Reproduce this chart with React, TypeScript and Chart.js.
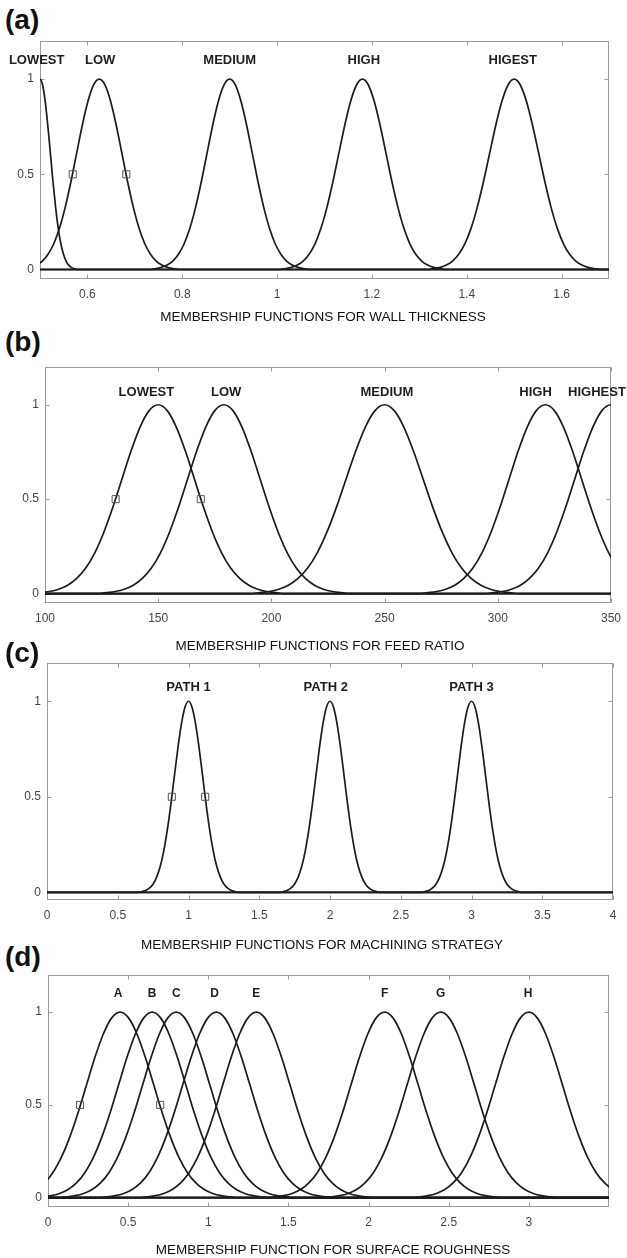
import React, { useEffect, useRef } from 'react';
import { Chart, registerables } from 'chart.js';

Chart.register(...registerables);

type Pt = [number, number];

// ---------- (a) wall thickness ----------
const wallNames = ['LOWEST', 'LOW', 'MEDIUM', 'HIGH', 'HIGEST'];
const wallLabelX = [0.493, 0.627, 0.9, 1.183, 1.497];
const wallXTicks = [0.6, 0.8, 1, 1.2, 1.4, 1.6];
const wallLowest: Pt[] = [[0.478, 0.607], [0.4835, 0.755], [0.489, 0.882], [0.4945, 0.969], [0.5, 1], [0.5055, 0.969], [0.511, 0.882], [0.5165, 0.755], [0.522, 0.607], [0.5275, 0.458], [0.533, 0.325], [0.5385, 0.216], [0.544, 0.135], [0.5495, 0.08], [0.555, 0.044], [0.5605, 0.023], [0.566, 0.011], [0.5715, 0.005], [0.577, 0], [1.7, 0]];
const wallLow: Pt[] = [[0.457, 0], [0.469, 0.005], [0.481, 0.011], [0.493, 0.023], [0.505, 0.044], [0.517, 0.08], [0.529, 0.135], [0.541, 0.216], [0.553, 0.325], [0.565, 0.458], [0.577, 0.607], [0.589, 0.755], [0.601, 0.882], [0.613, 0.969], [0.625, 1], [0.637, 0.969], [0.649, 0.882], [0.661, 0.755], [0.673, 0.607], [0.685, 0.458], [0.697, 0.325], [0.709, 0.216], [0.721, 0.135], [0.733, 0.08], [0.745, 0.044], [0.757, 0.023], [0.769, 0.011], [0.781, 0.005], [0.793, 0], [1.7, 0]];
const wallMedium: Pt[] = [[0.5, 0], [0.732, 0], [0.744, 0.005], [0.756, 0.011], [0.768, 0.023], [0.78, 0.044], [0.792, 0.08], [0.804, 0.135], [0.816, 0.216], [0.828, 0.325], [0.84, 0.458], [0.852, 0.607], [0.864, 0.755], [0.876, 0.882], [0.888, 0.969], [0.9, 1], [0.912, 0.969], [0.924, 0.882], [0.936, 0.755], [0.948, 0.607], [0.96, 0.458], [0.972, 0.325], [0.984, 0.216], [0.996, 0.135], [1.008, 0.08], [1.02, 0.044], [1.032, 0.023], [1.044, 0.011], [1.056, 0.005], [1.068, 0], [1.7, 0]];
const wallHigh: Pt[] = [[0.5, 0], [1.005, 0], [1.0175, 0.005], [1.03, 0.011], [1.0425, 0.023], [1.055, 0.044], [1.0675, 0.08], [1.08, 0.135], [1.0925, 0.216], [1.105, 0.325], [1.1175, 0.458], [1.13, 0.607], [1.1425, 0.755], [1.155, 0.882], [1.1675, 0.969], [1.18, 1], [1.1925, 0.969], [1.205, 0.882], [1.2175, 0.755], [1.23, 0.607], [1.2425, 0.458], [1.255, 0.325], [1.2675, 0.216], [1.28, 0.135], [1.2925, 0.08], [1.305, 0.044], [1.3175, 0.023], [1.33, 0.011], [1.3425, 0.005], [1.355, 0], [1.7, 0]];
const wallHigest: Pt[] = [[0.5, 0], [1.318, 0], [1.331, 0.005], [1.344, 0.011], [1.357, 0.023], [1.37, 0.044], [1.383, 0.08], [1.396, 0.135], [1.409, 0.216], [1.422, 0.325], [1.435, 0.458], [1.448, 0.607], [1.461, 0.755], [1.474, 0.882], [1.487, 0.969], [1.5, 1], [1.513, 0.969], [1.526, 0.882], [1.539, 0.755], [1.552, 0.607], [1.565, 0.458], [1.578, 0.325], [1.591, 0.216], [1.604, 0.135], [1.617, 0.08], [1.63, 0.044], [1.643, 0.023], [1.656, 0.011], [1.669, 0.005], [1.682, 0], [1.7, 0]];
const wallMarks: Pt[] = [[0.569, 0.5], [0.682, 0.5]];

// ---------- (b) feed ratio ----------
const feedNames = ['LOWEST', 'LOW', 'MEDIUM', 'HIGH', 'HIGHEST'];
const feedLabelX = [144.8, 180, 251, 316.7, 343.8];
const feedXTicks = [100, 150, 200, 250, 300, 350];
const feedLowest: Pt[] = [[94, 0], [98, 0.005], [102, 0.011], [106, 0.023], [110, 0.044], [114, 0.08], [118, 0.135], [122, 0.216], [126, 0.325], [130, 0.458], [134, 0.607], [138, 0.755], [142, 0.882], [146, 0.969], [150, 1], [154, 0.969], [158, 0.882], [162, 0.755], [166, 0.607], [170, 0.458], [174, 0.325], [178, 0.216], [182, 0.135], [186, 0.08], [190, 0.044], [194, 0.023], [198, 0.011], [202, 0.005], [206, 0], [350, 0]];
const feedLow: Pt[] = [[100, 0], [123, 0], [127, 0.005], [131, 0.011], [135, 0.023], [139, 0.044], [143, 0.08], [147, 0.135], [151, 0.216], [155, 0.325], [159, 0.458], [163, 0.607], [167, 0.755], [171, 0.882], [175, 0.969], [179, 1], [183, 0.969], [187, 0.882], [191, 0.755], [195, 0.607], [199, 0.458], [203, 0.325], [207, 0.216], [211, 0.135], [215, 0.08], [219, 0.044], [223, 0.023], [227, 0.011], [231, 0.005], [235, 0], [350, 0]];
const feedMedium: Pt[] = [[100, 0], [190.5, 0], [194.75, 0.005], [199, 0.011], [203.25, 0.023], [207.5, 0.044], [211.75, 0.08], [216, 0.135], [220.25, 0.216], [224.5, 0.325], [228.75, 0.458], [233, 0.607], [237.25, 0.755], [241.5, 0.882], [245.75, 0.969], [250, 1], [254.25, 0.969], [258.5, 0.882], [262.75, 0.755], [267, 0.607], [271.25, 0.458], [275.5, 0.325], [279.75, 0.216], [284, 0.135], [288.25, 0.08], [292.5, 0.044], [296.75, 0.023], [301, 0.011], [305.25, 0.005], [309.5, 0], [350, 0]];
const feedHigh: Pt[] = [[100, 0], [265, 0], [269, 0.005], [273, 0.011], [277, 0.023], [281, 0.044], [285, 0.08], [289, 0.135], [293, 0.216], [297, 0.325], [301, 0.458], [305, 0.607], [309, 0.755], [313, 0.882], [317, 0.969], [321, 1], [325, 0.969], [329, 0.882], [333, 0.755], [337, 0.607], [341, 0.458], [345, 0.325], [349, 0.216], [353, 0.135], [357, 0.08]];
const feedHighest: Pt[] = [[100, 0], [294, 0], [298, 0.005], [302, 0.011], [306, 0.023], [310, 0.044], [314, 0.08], [318, 0.135], [322, 0.216], [326, 0.325], [330, 0.458], [334, 0.607], [338, 0.755], [342, 0.882], [346, 0.969], [350, 1], [354, 0.969], [358, 0.882]];
const feedMarks: Pt[] = [[131.2, 0.5], [168.8, 0.5]];

// ---------- (c) machining strategy ----------
const pathNames = ['PATH 1', 'PATH 2', 'PATH 3'];
const pathLabelX = [1.0, 1.97, 3.0];
const pathXTicks = [0, 0.5, 1, 1.5, 2, 2.5, 3, 3.5, 4];
const path1: Pt[] = [[0, 0], [0.65, 0], [0.675, 0.005], [0.7, 0.011], [0.725, 0.023], [0.75, 0.044], [0.775, 0.08], [0.8, 0.135], [0.825, 0.216], [0.85, 0.325], [0.875, 0.458], [0.9, 0.607], [0.925, 0.755], [0.95, 0.882], [0.975, 0.969], [1, 1], [1.025, 0.969], [1.05, 0.882], [1.075, 0.755], [1.1, 0.607], [1.125, 0.458], [1.15, 0.325], [1.175, 0.216], [1.2, 0.135], [1.225, 0.08], [1.25, 0.044], [1.275, 0.023], [1.3, 0.011], [1.325, 0.005], [1.35, 0], [4, 0]];
const path2: Pt[] = [[0, 0], [1.65, 0], [1.675, 0.005], [1.7, 0.011], [1.725, 0.023], [1.75, 0.044], [1.775, 0.08], [1.8, 0.135], [1.825, 0.216], [1.85, 0.325], [1.875, 0.458], [1.9, 0.607], [1.925, 0.755], [1.95, 0.882], [1.975, 0.969], [2, 1], [2.025, 0.969], [2.05, 0.882], [2.075, 0.755], [2.1, 0.607], [2.125, 0.458], [2.15, 0.325], [2.175, 0.216], [2.2, 0.135], [2.225, 0.08], [2.25, 0.044], [2.275, 0.023], [2.3, 0.011], [2.325, 0.005], [2.35, 0], [4, 0]];
const path3: Pt[] = [[0, 0], [2.65, 0], [2.675, 0.005], [2.7, 0.011], [2.725, 0.023], [2.75, 0.044], [2.775, 0.08], [2.8, 0.135], [2.825, 0.216], [2.85, 0.325], [2.875, 0.458], [2.9, 0.607], [2.925, 0.755], [2.95, 0.882], [2.975, 0.969], [3, 1], [3.025, 0.969], [3.05, 0.882], [3.075, 0.755], [3.1, 0.607], [3.125, 0.458], [3.15, 0.325], [3.175, 0.216], [3.2, 0.135], [3.225, 0.08], [3.25, 0.044], [3.275, 0.023], [3.3, 0.011], [3.325, 0.005], [3.35, 0], [4, 0]];
const pathMarks: Pt[] = [[0.882, 0.5], [1.118, 0.5]];

// ---------- (d) surface roughness ----------
const roughNames = ['A', 'B', 'C', 'D', 'E', 'F', 'G', 'H'];
const roughLabelX = [0.437, 0.649, 0.8, 1.04, 1.3, 2.1, 2.45, 2.995];
const roughXTicks = [0, 0.5, 1, 1.5, 2, 2.5, 3];
const roughA: Pt[] = [[-0.18, 0.011], [-0.1275, 0.023], [-0.075, 0.044], [-0.0225, 0.08], [0.03, 0.135], [0.0825, 0.216], [0.135, 0.325], [0.1875, 0.458], [0.24, 0.607], [0.2925, 0.755], [0.345, 0.882], [0.3975, 0.969], [0.45, 1], [0.5025, 0.969], [0.555, 0.882], [0.6075, 0.755], [0.66, 0.607], [0.7125, 0.458], [0.765, 0.325], [0.8175, 0.216], [0.87, 0.135], [0.9225, 0.08], [0.975, 0.044], [1.0275, 0.023], [1.08, 0.011], [1.1325, 0.005], [1.185, 0], [3.5, 0]];
const roughB: Pt[] = [[-0.085, 0], [-0.0325, 0.005], [0.02, 0.011], [0.0725, 0.023], [0.125, 0.044], [0.1775, 0.08], [0.23, 0.135], [0.2825, 0.216], [0.335, 0.325], [0.3875, 0.458], [0.44, 0.607], [0.4925, 0.755], [0.545, 0.882], [0.5975, 0.969], [0.65, 1], [0.7025, 0.969], [0.755, 0.882], [0.8075, 0.755], [0.86, 0.607], [0.9125, 0.458], [0.965, 0.325], [1.0175, 0.216], [1.07, 0.135], [1.1225, 0.08], [1.175, 0.044], [1.2275, 0.023], [1.28, 0.011], [1.3325, 0.005], [1.385, 0], [3.5, 0]];
const roughC: Pt[] = [[0, 0], [0.065, 0], [0.1175, 0.005], [0.17, 0.011], [0.2225, 0.023], [0.275, 0.044], [0.3275, 0.08], [0.38, 0.135], [0.4325, 0.216], [0.485, 0.325], [0.5375, 0.458], [0.59, 0.607], [0.6425, 0.755], [0.695, 0.882], [0.7475, 0.969], [0.8, 1], [0.8525, 0.969], [0.905, 0.882], [0.9575, 0.755], [1.01, 0.607], [1.0625, 0.458], [1.115, 0.325], [1.1675, 0.216], [1.22, 0.135], [1.2725, 0.08], [1.325, 0.044], [1.3775, 0.023], [1.43, 0.011], [1.4825, 0.005], [1.535, 0], [3.5, 0]];
const roughD: Pt[] = [[0, 0], [0.315, 0], [0.3675, 0.005], [0.42, 0.011], [0.4725, 0.023], [0.525, 0.044], [0.5775, 0.08], [0.63, 0.135], [0.6825, 0.216], [0.735, 0.325], [0.7875, 0.458], [0.84, 0.607], [0.8925, 0.755], [0.945, 0.882], [0.9975, 0.969], [1.05, 1], [1.1025, 0.969], [1.155, 0.882], [1.2075, 0.755], [1.26, 0.607], [1.3125, 0.458], [1.365, 0.325], [1.4175, 0.216], [1.47, 0.135], [1.5225, 0.08], [1.575, 0.044], [1.6275, 0.023], [1.68, 0.011], [1.7325, 0.005], [1.785, 0], [3.5, 0]];
const roughE: Pt[] = [[0, 0], [0.565, 0], [0.6175, 0.005], [0.67, 0.011], [0.7225, 0.023], [0.775, 0.044], [0.8275, 0.08], [0.88, 0.135], [0.9325, 0.216], [0.985, 0.325], [1.0375, 0.458], [1.09, 0.607], [1.1425, 0.755], [1.195, 0.882], [1.2475, 0.969], [1.3, 1], [1.3525, 0.969], [1.405, 0.882], [1.4575, 0.755], [1.51, 0.607], [1.5625, 0.458], [1.615, 0.325], [1.6675, 0.216], [1.72, 0.135], [1.7725, 0.08], [1.825, 0.044], [1.8775, 0.023], [1.93, 0.011], [1.9825, 0.005], [2.035, 0], [3.5, 0]];
const roughF: Pt[] = [[0, 0], [1.365, 0], [1.4175, 0.005], [1.47, 0.011], [1.5225, 0.023], [1.575, 0.044], [1.6275, 0.08], [1.68, 0.135], [1.7325, 0.216], [1.785, 0.325], [1.8375, 0.458], [1.89, 0.607], [1.9425, 0.755], [1.995, 0.882], [2.0475, 0.969], [2.1, 1], [2.1525, 0.969], [2.205, 0.882], [2.2575, 0.755], [2.31, 0.607], [2.3625, 0.458], [2.415, 0.325], [2.4675, 0.216], [2.52, 0.135], [2.5725, 0.08], [2.625, 0.044], [2.6775, 0.023], [2.73, 0.011], [2.7825, 0.005], [2.835, 0], [3.5, 0]];
const roughG: Pt[] = [[0, 0], [1.715, 0], [1.7675, 0.005], [1.82, 0.011], [1.8725, 0.023], [1.925, 0.044], [1.9775, 0.08], [2.03, 0.135], [2.0825, 0.216], [2.135, 0.325], [2.1875, 0.458], [2.24, 0.607], [2.2925, 0.755], [2.345, 0.882], [2.3975, 0.969], [2.45, 1], [2.5025, 0.969], [2.555, 0.882], [2.6075, 0.755], [2.66, 0.607], [2.7125, 0.458], [2.765, 0.325], [2.8175, 0.216], [2.87, 0.135], [2.9225, 0.08], [2.975, 0.044], [3.0275, 0.023], [3.08, 0.011], [3.1325, 0.005], [3.185, 0], [3.5, 0]];
const roughH: Pt[] = [[0, 0], [2.265, 0], [2.3175, 0.005], [2.37, 0.011], [2.4225, 0.023], [2.475, 0.044], [2.5275, 0.08], [2.58, 0.135], [2.6325, 0.216], [2.685, 0.325], [2.7375, 0.458], [2.79, 0.607], [2.8425, 0.755], [2.895, 0.882], [2.9475, 0.969], [3, 1], [3.0525, 0.969], [3.105, 0.882], [3.1575, 0.755], [3.21, 0.607], [3.2625, 0.458], [3.315, 0.325], [3.3675, 0.216], [3.42, 0.135], [3.4725, 0.08], [3.525, 0.044]];
const roughMarks: Pt[] = [[0.2, 0.5], [0.7, 0.5]];

const yTicks = [0, 0.5, 1];

const FONT = '"Liberation Sans", Arial, Helvetica, sans-serif';
const PAGE_W = 627;

const framePlugin = {
  id: 'frame',
  beforeDatasetsDraw(chart: any, _args: any, opts: any) {
    const { ctx, chartArea: ca, scales } = chart;
    ctx.save();
    ctx.strokeStyle = opts.color || '#9a9a9a';
    ctx.lineWidth = 1;
    const l = Math.round(ca.left) + 0.5;
    const r = Math.round(ca.right) - 0.5;
    const t = Math.round(ca.top) + 0.5;
    const b = Math.round(ca.bottom) - 0.5;
    ctx.strokeRect(l, t, r - l, b - t);
    const tl = 4;
    ctx.beginPath();
    for (const v of opts.xTicks || []) {
      const px = Math.round(scales.x.getPixelForValue(v)) + 0.5;
      ctx.moveTo(px, b);
      ctx.lineTo(px, b - tl);
      ctx.moveTo(px, t);
      ctx.lineTo(px, t + tl);
    }
    for (const v of opts.yTicks || []) {
      const py = Math.round(scales.y.getPixelForValue(v)) + 0.5;
      ctx.moveTo(l, py);
      ctx.lineTo(l + tl, py);
      ctx.moveTo(r, py);
      ctx.lineTo(r - tl, py);
    }
    ctx.stroke();
    ctx.restore();
  },
  afterDatasetsDraw(chart: any, _args: any, opts: any) {
    const { ctx, scales } = chart;
    const names: string[] = opts.names || [];
    const xs: number[] = opts.labelX || [];
    ctx.save();
    ctx.fillStyle = opts.labelColor || '#1e1e1e';
    ctx.font = opts.labelFont;
    ctx.textAlign = 'center';
    ctx.textBaseline = 'middle';
    names.forEach((n, i) => {
      ctx.fillText(n, scales.x.getPixelForValue(xs[i]), scales.y.getPixelForValue(opts.labelY));
    });
    ctx.restore();
  },
};

type Area = { left: number; right: number; top: number; bottom: number };

interface PanelProps {
  area: Area;
  xMin: number;
  xMax: number;
  yMin: number;
  yMax: number;
  xTicks: number[];
  curves: Pt[][];
  marks: Pt[];
  names: string[];
  labelX: number[];
  labelY: number;
  labelFont: string;
}

const TOP_PAD = 20;
const X_AXIS_H = 40;

function Panel(p: PanelProps) {
  const ref = useRef<HTMLCanvasElement | null>(null);
  const h = p.area.bottom - p.area.top + TOP_PAD + X_AXIS_H;
  useEffect(() => {
    if (!ref.current) return;
    const datasets: any[] = p.curves.map((c) => ({
      data: c,
      borderColor: '#1b1b1b',
      borderWidth: 1.7,
      pointRadius: 0,
      fill: false,
      cubicInterpolationMode: 'monotone',
    }));
    datasets.unshift({
      data: p.marks,
      showLine: false,
      pointStyle: 'rect',
      pointRadius: 5,
      pointBorderColor: '#555',
      pointBorderWidth: 1,
      pointBackgroundColor: 'rgba(0,0,0,0)',
      order: -1,
    });
    const chart = new Chart(ref.current, {
      type: 'line',
      data: { datasets },
      plugins: [framePlugin],
      options: {
        animation: false,
        responsive: false,
        devicePixelRatio: 1,
        events: [],
        layout: { padding: { left: 0, right: PAGE_W - p.area.right, top: TOP_PAD, bottom: 0 } },
        plugins: {
          legend: { display: false },
          tooltip: { enabled: false },
          frame: {
            xTicks: p.xTicks,
            yTicks,
            names: p.names,
            labelX: p.labelX,
            labelY: p.labelY,
            labelFont: p.labelFont,
            color: '#9a9a9a',
          },
        } as any,
        scales: {
          x: {
            type: 'linear',
            min: p.xMin,
            max: p.xMax,
            border: { display: false },
            grid: { display: true, drawOnChartArea: false, drawTicks: true, tickLength: 6, color: 'rgba(0,0,0,0)' },
            ticks: {
              padding: 2,
              color: '#444',
              font: { family: FONT, size: 12 },
              maxRotation: 0,
              autoSkip: false,
              callback: (v: any) => String(v),
            },
            afterBuildTicks: (s: any) => {
              s.ticks = p.xTicks.map((v) => ({ value: v }));
            },
            afterFit: (s: any) => {
              s.height = X_AXIS_H;
            },
          },
          y: {
            type: 'linear',
            min: p.yMin,
            max: p.yMax,
            border: { display: false },
            grid: { display: false, drawTicks: false },
            ticks: {
              padding: 6,
              color: '#444',
              font: { family: FONT, size: 12 },
              callback: (v: any) => String(v),
            },
            afterBuildTicks: (s: any) => {
              s.ticks = yTicks.map((v) => ({ value: v }));
            },
            afterFit: (s: any) => {
              s.width = p.area.left;
            },
          },
        },
      } as any,
    });
    return () => chart.destroy();
  }, []);
  return (
    <canvas
      ref={ref}
      width={PAGE_W}
      height={h}
      style={{ position: 'absolute', left: 0, top: p.area.top - TOP_PAD, width: PAGE_W, height: h }}
    />
  );
}

function Txt(props: { x: number; y: number; size: number; bold?: boolean; children: string; left?: boolean }) {
  return (
    <div
      style={{
        position: 'absolute',
        left: props.x,
        top: props.y,
        transform: props.left ? 'translateY(-50%)' : 'translate(-50%, -50%)',
        fontFamily: FONT,
        fontSize: props.size,
        fontWeight: props.bold ? 'bold' : 'normal',
        color: '#111',
        whiteSpace: 'nowrap',
        lineHeight: 1,
      }}
    >
      {props.children}
    </div>
  );
}

export default function App() {
  const labelFont = `bold 13px ${FONT}`;
  return (
    <div style={{ position: 'absolute', left: 0, top: 0, width: PAGE_W, height: 1258, background: '#fff', overflow: 'hidden' }}>
      <Txt x={5} y={20} size={28} bold left>(a)</Txt>
      <Panel
        area={{ left: 40, right: 609, top: 41, bottom: 279 }}
        xMin={0.5}
        xMax={1.7}
        yMin={-0.05}
        yMax={1.2}
        xTicks={wallXTicks}
        curves={[wallLowest, wallLow, wallMedium, wallHigh, wallHigest]}
        marks={wallMarks}
        names={wallNames}
        labelX={wallLabelX}
        labelY={1.1}
        labelFont={labelFont}
      />
      <Txt x={323} y={317} size={13.5}>MEMBERSHIP FUNCTIONS FOR WALL THICKNESS</Txt>

      <Txt x={5} y={342} size={28} bold left>(b)</Txt>
      <Panel
        area={{ left: 45, right: 611, top: 367, bottom: 603 }}
        xMin={100}
        xMax={350}
        yMin={-0.05}
        yMax={1.2}
        xTicks={feedXTicks}
        curves={[feedLowest, feedLow, feedMedium, feedHigh, feedHighest]}
        marks={feedMarks}
        names={feedNames}
        labelX={feedLabelX}
        labelY={1.065}
        labelFont={labelFont}
      />
      <Txt x={320} y={646} size={13.5}>MEMBERSHIP FUNCTIONS FOR FEED RATIO</Txt>

      <Txt x={5} y={653} size={28} bold left>(c)</Txt>
      <Panel
        area={{ left: 47, right: 613, top: 663, bottom: 900 }}
        xMin={0}
        xMax={4}
        yMin={-0.04}
        yMax={1.2}
        xTicks={pathXTicks}
        curves={[path1, path2, path3]}
        marks={pathMarks}
        names={pathNames}
        labelX={pathLabelX}
        labelY={1.07}
        labelFont={labelFont}
      />
      <Txt x={322} y={945} size={13.5}>MEMBERSHIP FUNCTIONS FOR MACHINING STRATEGY</Txt>

      <Txt x={5} y={957} size={28} bold left>(d)</Txt>
      <Panel
        area={{ left: 48, right: 609, top: 975, bottom: 1207 }}
        xMin={0}
        xMax={3.5}
        yMin={-0.05}
        yMax={1.2}
        xTicks={roughXTicks}
        curves={[roughA, roughB, roughC, roughD, roughE, roughF, roughG, roughH]}
        marks={roughMarks}
        names={roughNames}
        labelX={roughLabelX}
        labelY={1.1}
        labelFont={`bold 12px ${FONT}`}
      />
      <Txt x={333} y={1250} size={13.5}>MEMBERSHIP FUNCTION FOR SURFACE ROUGHNESS</Txt>
    </div>
  );
}
